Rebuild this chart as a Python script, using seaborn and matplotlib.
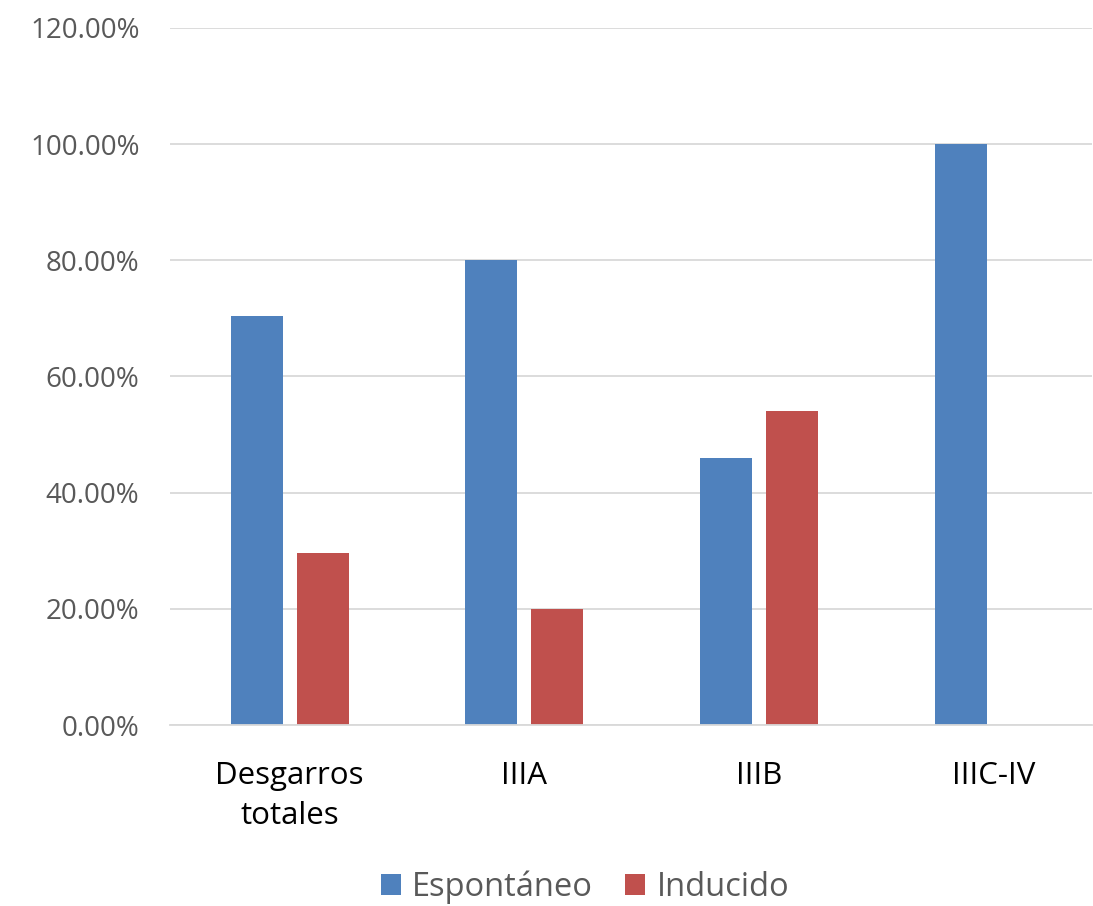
import matplotlib
matplotlib.use("Agg")
import matplotlib.pyplot as plt
import seaborn as sns
import pandas as pd
from matplotlib.ticker import FuncFormatter, MultipleLocator

categories = ["Desgarros\ntotales", "IIIA", "IIIB", "IIIC-IV"]
espontaneo = [70.45, 80.0, 46.0, 100.0]
inducido = [29.55, 20.0, 54.0, 0.0]
series_names = ["Espontáneo", "Inducido"]
colors = ["#4F81BD", "#C0504D"]

df = pd.DataFrame({
    "cat": categories * 2,
    "val": espontaneo + inducido,
    "serie": [series_names[0]] * 4 + [series_names[1]] * 4,
})

sns.set_theme(style="white")
plt.rcParams["font.family"] = ["Open Sans", "DejaVu Sans"]

fig = plt.figure(figsize=(10.93, 9.06), dpi=100)
ax = fig.add_axes([170 / 1093, (906 - 725) / 906, (1092 - 170) / 1093, (725 - 28) / 906])

sns.barplot(data=df, x="cat", y="val", hue="serie", palette=colors,
            width=0.562, gap=0.212, ax=ax, saturation=1, errorbar=None,
            linewidth=0)

ax.set_ylim(0, 120)
ax.set_xlim(-0.509, 3.417)
ax.yaxis.set_major_locator(MultipleLocator(20))
ax.yaxis.set_major_formatter(FuncFormatter(lambda v, p: f"{v:.2f}%"))
ax.grid(axis="y", color="#D9D9D9", linewidth=1.3)
ax.set_axisbelow(True)
for s in ["top", "right", "left"]:
    ax.spines[s].set_visible(False)
ax.spines["bottom"].set_color("#D9D9D9")
ax.spines["bottom"].set_linewidth(1.3)
ax.set_xlabel("")
ax.set_ylabel("")
ax.tick_params(axis="y", length=0, pad=22, labelsize=20, labelcolor="#595959")
ax.tick_params(axis="x", length=0, pad=26, labelsize=22.5, labelcolor="#000000")
for lbl in ax.get_xticklabels():
    lbl.set_linespacing(1.45)

leg = fig.legend(*ax.get_legend_handles_labels(), loc="center",
                 bbox_to_anchor=(585 / 1093, 1 - 887 / 906), ncol=2, frameon=False,
                 fontsize=23.5, handlelength=0.6, handleheight=0.6, handletextpad=0.35,
                 columnspacing=1.0)
ax.get_legend().remove()
for t in leg.get_texts():
    t.set_color("#595959")

fig.savefig("out.png", dpi=100)
